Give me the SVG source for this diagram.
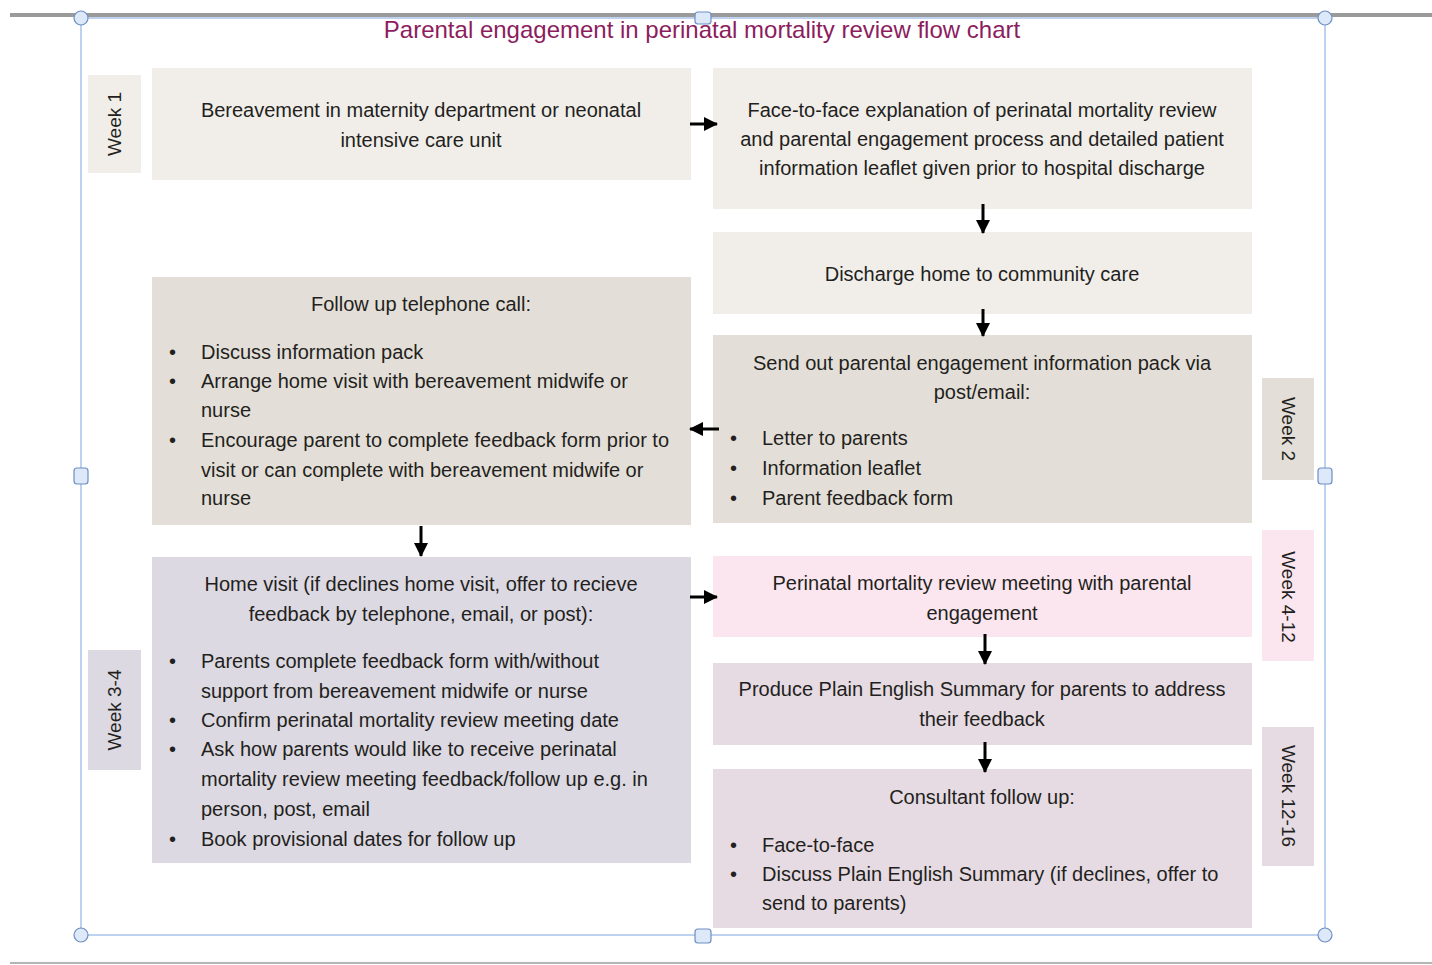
<svg xmlns="http://www.w3.org/2000/svg" width="1432" height="965" viewBox="0 0 1432 965">
<style>
.t{font-family:"Liberation Sans",Arial,sans-serif;font-size:20px;fill:#231f20}
.c{text-anchor:middle}
.wk{font-family:"Liberation Sans",Arial,sans-serif;font-size:19px;fill:#231f20;text-anchor:middle}
.b1{fill:#f1eeea}
.b2{fill:#e3dfd8}
.b3{fill:#dcd9e2}
.b4{fill:#fbe6ef}
.b5{fill:#e6dbe3}
.conn{stroke:#000;stroke-width:3;fill:none;marker-end:url(#ah)}
.frame{stroke:#a9c4ec;stroke-width:1.5;fill:none}
.hc{fill:#dde8f8;stroke:#6d8fc4;stroke-width:1.2}
</style>
<defs>
<marker id="ah" markerUnits="userSpaceOnUse" markerWidth="14" markerHeight="14" refX="13" refY="7" orient="auto">
<path d="M0,0 L14,7 L0,14 Z" fill="#000"/>
</marker>
</defs>
<rect width="1432" height="965" fill="#fff"/>
<g id="page-lines">
<rect x="10" y="13" width="1422" height="4" fill="#9a9a9a"/>
<rect x="10" y="962" width="1422" height="2" fill="#b5b5b5"/>
</g>
<g id="selection-frame">
<rect class="frame" x="81" y="18" width="1244" height="917"/>
<circle class="hc" cx="81" cy="18" r="7"/>
<circle class="hc" cx="1325" cy="18" r="7"/>
<circle class="hc" cx="81" cy="935" r="7"/>
<circle class="hc" cx="1325" cy="935" r="7"/>
<rect class="hc" x="695" y="12" width="16" height="12" rx="3"/>
<rect class="hc" x="695" y="929" width="16" height="14" rx="3"/>
<rect class="hc" x="74" y="468" width="14" height="16" rx="3"/>
<rect class="hc" x="1318" y="468" width="14" height="16" rx="3"/>
</g>
<text id="title" x="702" y="38" text-anchor="middle" font-family="Liberation Sans, Arial, sans-serif" font-size="24" fill="#8c1d5e">Parental engagement in perinatal mortality review flow chart</text>

<g id="week1">
<rect class="b1" x="88" y="75" width="53" height="98"/>
<text class="wk" transform="translate(121,124) rotate(-90)">Week 1</text>
</g>
<g id="week34">
<rect class="b3" x="88" y="650" width="53" height="120"/>
<text class="wk" transform="translate(121,710) rotate(-90)">Week 3-4</text>
</g>
<g id="week2">
<rect class="b2" x="1262" y="378" width="52" height="102"/>
<text class="wk" transform="translate(1282,429) rotate(90)">Week 2</text>
</g>
<g id="week412">
<rect class="b4" x="1262" y="530" width="52" height="131"/>
<text class="wk" transform="translate(1282,597) rotate(90)">Week 4-12</text>
</g>
<g id="week1216">
<rect class="b5" x="1262" y="727" width="52" height="139"/>
<text class="wk" transform="translate(1282,796) rotate(90)">Week 12-16</text>
</g>

<g id="bereavement">
<rect class="b1" x="152" y="68" width="539" height="112"/>
<text class="t c" x="421" y="117">Bereavement in maternity department or neonatal</text>
<text class="t c" x="421" y="147">intensive care unit</text>
</g>
<g id="face-to-face">
<rect class="b1" x="713" y="68" width="539" height="141"/>
<text class="t c" x="982" y="117">Face-to-face explanation of perinatal mortality review</text>
<text class="t c" x="982" y="146">and parental engagement process and detailed patient</text>
<text class="t c" x="982" y="175">information leaflet given prior to hospital discharge</text>
</g>
<g id="discharge">
<rect class="b1" x="713" y="232" width="539" height="82"/>
<text class="t c" x="982" y="281">Discharge home to community care</text>
</g>
<g id="send-out">
<rect class="b2" x="713" y="335" width="539" height="188"/>
<text class="t c" x="982" y="370">Send out parental engagement information pack via</text>
<text class="t c" x="982" y="399">post/email:</text>
<text class="t" x="730" y="445">•</text><text class="t" x="762" y="445">Letter to parents</text>
<text class="t" x="730" y="475">•</text><text class="t" x="762" y="475">Information leaflet</text>
<text class="t" x="730" y="505">•</text><text class="t" x="762" y="505">Parent feedback form</text>
</g>
<g id="follow-up-call">
<rect class="b2" x="152" y="277" width="539" height="248"/>
<text class="t c" x="421" y="311">Follow up telephone call:</text>
<text class="t" x="169" y="359">•</text><text class="t" x="201" y="359">Discuss information pack</text>
<text class="t" x="169" y="388">•</text><text class="t" x="201" y="388">Arrange home visit with bereavement midwife or</text>
<text class="t" x="201" y="417">nurse</text>
<text class="t" x="169" y="447">•</text><text class="t" x="201" y="447">Encourage parent to complete feedback form prior to</text>
<text class="t" x="201" y="477">visit or can complete with bereavement midwife or</text>
<text class="t" x="201" y="505">nurse</text>
</g>
<g id="home-visit">
<rect class="b3" x="152" y="557" width="539" height="306"/>
<text class="t c" x="421" y="591">Home visit (if declines home visit, offer to recieve</text>
<text class="t c" x="421" y="621">feedback by telephone, email, or post):</text>
<text class="t" x="169" y="668">•</text><text class="t" x="201" y="668">Parents complete feedback form with/without</text>
<text class="t" x="201" y="698">support from bereavement midwife or nurse</text>
<text class="t" x="169" y="727">•</text><text class="t" x="201" y="727">Confirm perinatal mortality review meeting date</text>
<text class="t" x="169" y="756">•</text><text class="t" x="201" y="756">Ask how parents would like to receive perinatal</text>
<text class="t" x="201" y="786">mortality review meeting feedback/follow up e.g. in</text>
<text class="t" x="201" y="816">person, post, email</text>
<text class="t" x="169" y="846">•</text><text class="t" x="201" y="846">Book provisional dates for follow up</text>
</g>
<g id="review-meeting">
<rect class="b4" x="713" y="556" width="539" height="81"/>
<text class="t c" x="982" y="590">Perinatal mortality review meeting with parental</text>
<text class="t c" x="982" y="620">engagement</text>
</g>
<g id="plain-english">
<rect class="b5" x="713" y="663" width="539" height="82"/>
<text class="t c" x="982" y="696">Produce Plain English Summary for parents to address</text>
<text class="t c" x="982" y="726">their feedback</text>
</g>
<g id="consultant">
<rect class="b5" x="713" y="769" width="539" height="159"/>
<text class="t c" x="982" y="804">Consultant follow up:</text>
<text class="t" x="730" y="852">•</text><text class="t" x="762" y="852">Face-to-face</text>
<text class="t" x="730" y="881">•</text><text class="t" x="762" y="881">Discuss Plain English Summary (if declines, offer to</text>
<text class="t" x="762" y="910">send to parents)</text>
</g>

<g id="connectors">
<path class="conn" d="M690,124 H717"/>
<path class="conn" d="M983,204 V233"/>
<path class="conn" d="M983,309 V336"/>
<path class="conn" d="M719,429 H690"/>
<path class="conn" d="M421,526 V556"/>
<path class="conn" d="M690,597 H717"/>
<path class="conn" d="M985,634 V664"/>
<path class="conn" d="M985,742 V772"/>
</g>
</svg>
